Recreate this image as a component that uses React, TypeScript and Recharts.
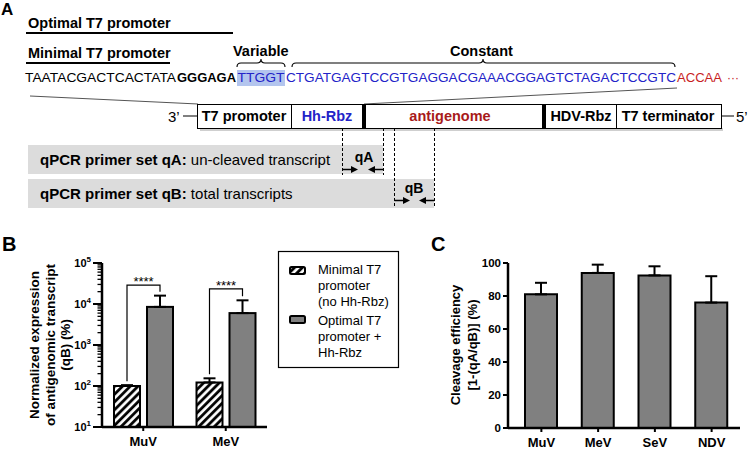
import React from "react";
import { BarChart, Bar, XAxis, YAxis, ErrorBar } from "recharts";

const FONT = '"Liberation Sans", Arial, sans-serif';

// panel B: antigenomic transcript (qB), log scale
const virusesB = ["MuV", "MeV"];
const minimalMean = [100, 122];
const minimalErr = [5, 32];
const optimalMean = [8500, 6000];
const optimalErr = [7500, 6300];
const sigTop = [29000, 23500];
const sigLabel = ["****", "****"];

// panel C: cleavage efficiency
const virusesC = ["MuV", "MeV", "SeV", "NDV"];
const cleavageMean = [81, 94, 92.5, 76];
const cleavageErr = [7, 5, 5.5, 16];

const logMajorTicks = [10, 100, 1000, 10000, 100000];
const logMinorSteps = [2, 3, 4, 5, 6, 7, 8, 9];
const linearTicks = [0, 20, 40, 60, 80, 100];

const BAR_GAP = 7;
const GRAY = "#808080";

const dataB = virusesB.map((name, i) => ({
  name,
  minimal: minimalMean[i],
  minimalErr: [0, minimalErr[i]],
  optimal: optimalMean[i],
  optimalErr: [0, optimalErr[i]],
  sigTop: sigTop[i],
  sig: sigLabel[i],
}));

const dataC = virusesC.map((name, i) => ({
  name,
  value: cleavageMean[i],
  err: [0, cleavageErr[i]],
}));

const logTicks = [
  ...logMajorTicks.slice(0, -1).flatMap((m) => [m, ...logMinorSteps.map((k) => m * k)]),
  logMajorTicks[logMajorTicks.length - 1],
];

function LogTick(props: any) {
  const { x, y, payload } = props;
  const v = payload.value;
  const major = logMajorTicks.includes(v);
  const exp = Math.round(Math.log10(v));
  return (
    <g>
      <line x1={x - (major ? 9 : 4.5)} x2={x} y1={y} y2={y} stroke="#000" strokeWidth={major ? 2 : 1.3} />
      {major && (
        <text x={x - 11} y={y + 4} textAnchor="end" fontFamily={FONT} fontSize={11} fontWeight="bold" fill="#000">
          10
          <tspan dy={-5} fontSize={8}>
            {exp}
          </tspan>
        </text>
      )}
    </g>
  );
}

// optimal bar + significance bracket back to its minimal neighbour
function OptimalShape(props: any) {
  const { x, y, width, height, payload } = props;
  const base = y + height;
  const perDecade = height / Math.log10(payload.optimal / 10);
  const py = (v: number) => base - Math.log10(v / 10) * perDecade;
  const rightX = x + width / 2;
  const leftX = x - BAR_GAP - width / 2;
  const topY = py(payload.sigTop);
  const leftEnd = py(payload.minimal + payload.minimalErr[1]) - 4;
  const rightEnd = py(payload.optimal + payload.optimalErr[1]) - 4;
  return (
    <g>
      <rect x={x} y={y} width={width} height={height} fill={GRAY} stroke="#000" strokeWidth={2} />
      <path d={`M${leftX},${leftEnd}V${topY}H${rightX}V${rightEnd}`} fill="none" stroke="#000" strokeWidth={1.2} />
      <text x={(leftX + rightX) / 2} y={topY + 1} textAnchor="middle" fontFamily={FONT} fontSize={13} fill="#000">
        {payload.sig}
      </text>
    </g>
  );
}

function Arrow({ from, to, y }: { from: number; to: number; y: number }) {
  const d = to > from ? 1 : -1;
  return (
    <g>
      <line x1={from} x2={to - d * 6} y1={y} y2={y} stroke="#000" strokeWidth={1.5} />
      <path d={`M${to},${y}L${to - d * 7},${y - 3.5}L${to - d * 7},${y + 3.5}Z`} fill="#000" />
    </g>
  );
}

function brace(x1: number, x2: number, mid: number) {
  const y = 63;
  return `M${x1},67Q${x1},${y} ${x1 + 4},${y}L${mid - 4},${y}Q${mid},${y} ${mid},${y - 4}Q${mid},${y} ${mid + 4},${y}L${x2 - 4},${y}Q${x2},${y} ${x2},67`;
}

const BLUE = "#2323c8";
const RED = "#c81e1e";

// sequence pieces: text, start, length, colour, bold
const seqParts: [string, number, number, string, boolean][] = [
  ["TAATACGACTCACTATA", 25, 151, "#000", false],
  ["GGGAGA", 177, 59, "#000", true],
  ["TTGGT", 237.5, 47, BLUE, false],
  ["CTGATGAGTCCGTGAGGACGAAACGGAGTCTAGACTCCGTC", 286, 390, BLUE, false],
  ["ACCAA", 677, 45, RED, false],
  ["···", 727, 12, RED, false],
];

function Overlay() {
  return (
    <svg width={750} height={450} style={{ position: "absolute", left: 0, top: 0 }} fontFamily={FONT}>
      <defs>
        <pattern id="hatch" patternUnits="userSpaceOnUse" width={5.5} height={5.5} patternTransform="rotate(45)">
          <rect width={5.5} height={5.5} fill="#fff" />
          <line x1={1.5} y1={0} x2={1.5} y2={5.5} stroke="#000" strokeWidth={2.8} />
        </pattern>
      </defs>

      {/* panel A */}
      <text x={1} y={15} fontSize={17} fontWeight="bold">A</text>
      <text x={28} y={28} fontSize={14.5} fontWeight="bold">Optimal T7 promoter</text>
      <line x1={26} x2={233} y1={33} y2={33} stroke="#000" strokeWidth={2} />
      <text x={28} y={58} fontSize={14.5} fontWeight="bold">Minimal T7 promoter</text>
      <line x1={26} x2={170} y1={63} y2={63} stroke="#000" strokeWidth={2} />
      <text x={233} y={56} fontSize={14.5} fontWeight="bold">Variable</text>
      <text x={450} y={56} fontSize={14.5} fontWeight="bold">Constant</text>
      <path d={brace(237, 285, 261)} fill="none" stroke="#000" strokeWidth={1.1} />
      <path d={brace(292, 675, 483)} fill="none" stroke="#000" strokeWidth={1.1} />
      <rect x={237} y={70} width={48} height={16} fill="#b3c5ee" />
      {seqParts.map(([s, x, len, color, bold]) => (
        <text
          key={s}
          x={x}
          y={82}
          fontSize={13.5}
          fill={color}
          fontWeight={bold ? "bold" : "normal"}
          textLength={len}
          lengthAdjust="spacingAndGlyphs"
        >
          {s}
        </text>
      ))}
      <line x1={30} y1={96} x2={198} y2={104} stroke="#555" strokeWidth={1} />
      <line x1={677} y1={88} x2={364} y2={104} stroke="#555" strokeWidth={1} />

      {/* construct */}
      <rect x={200} y={128} width={523} height={3} fill="#cfcfcf" />
      <rect x={197.5} y={104.5} width={524} height={24} fill="#fff" stroke="#000" strokeWidth={1} />
      <line x1={291.5} x2={291.5} y1={104} y2={128} stroke="#000" />
      <rect x={362} y={104} width={4} height={24} fill="#000" />
      <rect x={542} y={104} width={4} height={24} fill="#000" />
      <line x1={616.5} x2={616.5} y1={104} y2={128} stroke="#000" />
      <text x={244} y={121} fontSize={14.5} fontWeight="bold" textAnchor="middle">T7 promoter</text>
      <text x={327} y={121} fontSize={14.5} fontWeight="bold" textAnchor="middle" fill={BLUE}>Hh-Rbz</text>
      <text x={450} y={121} fontSize={14.5} fontWeight="bold" textAnchor="middle" fill="#a81a1a">antigenome</text>
      <text x={581} y={121} fontSize={14.5} fontWeight="bold" textAnchor="middle">HDV-Rbz</text>
      <text x={668} y={121} fontSize={14.5} fontWeight="bold" textAnchor="middle">T7 terminator</text>
      <text x={168} y={122} fontSize={15}>3’</text>
      <line x1={183} x2={197} y1={116} y2={116} stroke="#000" />
      <line x1={722} x2={734} y1={116} y2={116} stroke="#000" />
      <text x={736} y={122} fontSize={15}>5’</text>

      {/* qPCR primer sets */}
      <rect x={28} y={145} width={355} height={29} fill="#dcdcdc" />
      <rect x={28} y={179} width={406} height={29} fill="#dcdcdc" />
      <g stroke="#000" strokeWidth={1} strokeDasharray="3 2">
        <line x1={342.5} x2={342.5} y1={128} y2={175} />
        <line x1={383.5} x2={383.5} y1={128} y2={175} />
        <line x1={394.5} x2={394.5} y1={128} y2={208} />
        <line x1={434.5} x2={434.5} y1={128} y2={208} />
      </g>
      <text x={40} y={165} fontSize={15}>
        <tspan fontWeight="bold">qPCR primer set qA:</tspan>
        <tspan> un-cleaved transcript</tspan>
      </text>
      <text x={40} y={199} fontSize={15}>
        <tspan fontWeight="bold">qPCR primer set qB:</tspan>
        <tspan> total transcripts</tspan>
      </text>
      <text x={364} y={162} fontSize={14} fontWeight="bold" textAnchor="middle">qA</text>
      <Arrow from={342.5} to={358} y={169.5} />
      <Arrow from={383.5} to={368} y={169.5} />
      <text x={414} y={193} fontSize={14} fontWeight="bold" textAnchor="middle">qB</text>
      <Arrow from={394.5} to={410} y={200.5} />
      <Arrow from={434.5} to={419} y={200.5} />

      {/* panel B extras */}
      <text x={2} y={251} fontSize={20} fontWeight="bold">B</text>
      <g fontSize={13.5} fontWeight="bold" textAnchor="middle">
        <text transform="translate(39,345) rotate(-90)">Normalized expression</text>
        <text transform="translate(54.5,345) rotate(-90)">of antigenomic transcript</text>
        <text transform="translate(70,345) rotate(-90)">(qB) (%)</text>
      </g>
      <rect x={278.5} y={251.5} width={120} height={116} fill="none" stroke="#000" strokeWidth={1.2} />
      <rect x={290} y={267} width={15} height={7} rx={1.5} fill="url(#hatch)" stroke="#000" strokeWidth={2} />
      <rect x={290} y={316} width={15} height={7} rx={1.5} fill={GRAY} stroke="#000" strokeWidth={2} />
      <g fontSize={13}>
        <text x={318} y={274}>Minimal T7</text>
        <text x={318} y={290}>promoter</text>
        <text x={318} y={306}>(no Hh-Rbz)</text>
        <text x={318} y={325}>Optimal T7</text>
        <text x={318} y={341}>promoter +</text>
        <text x={318} y={357}>Hh-Rbz</text>
      </g>

      {/* panel C extras */}
      <text x={431} y={251} fontSize={20} fontWeight="bold">C</text>
      <g fontSize={13} fontWeight="bold" textAnchor="middle">
        <text transform="translate(460,345) rotate(-90)">Cleavage efficiency</text>
        <text transform="translate(476.5,345) rotate(-90)">[1-(qA/qB)] (%)</text>
      </g>
    </svg>
  );
}

const axisLine = { stroke: "#000", strokeWidth: 2.5 };
const tickLine = { stroke: "#000", strokeWidth: 2 };
const xTick = { fill: "#000", fontSize: 13, fontWeight: "bold", fontFamily: FONT };

export default function App() {
  return (
    <div style={{ position: "relative", width: 750, height: 450, background: "#fff", overflow: "hidden" }}>
      <style>{"body{margin:0}"}</style>
      <Overlay />
      <div style={{ position: "absolute", left: 0, top: 250 }}>
        <BarChart
          width={280}
          height={200}
          data={dataB}
          margin={{ top: 13, right: 13, bottom: 0, left: 0 }}
          barGap={BAR_GAP}
          barSize={26}
        >
          <XAxis
            dataKey="name"
            height={23}
            axisLine={axisLine}
            tickLine={tickLine}
            tickSize={4}
            tickMargin={6}
            tick={xTick}
          />
          <YAxis
            type="number"
            scale="log"
            domain={[10, 100000]}
            allowDataOverflow
            ticks={logTicks}
            interval={0}
            width={102}
            axisLine={axisLine}
            tickLine={false}
            tickSize={0}
            tickMargin={0}
            tick={(p: any) => <LogTick {...p} />}
          />
          <Bar dataKey="minimal" fill="url(#hatch)" stroke="#000" strokeWidth={2} isAnimationActive={false}>
            <ErrorBar dataKey="minimalErr" width={6} stroke="#000" strokeWidth={2} />
          </Bar>
          <Bar dataKey="optimal" fill={GRAY} shape={(p: any) => <OptimalShape {...p} />} isAnimationActive={false}>
            <ErrorBar dataKey="optimalErr" width={6} stroke="#000" strokeWidth={2} />
          </Bar>
        </BarChart>
      </div>
      <div style={{ position: "absolute", left: 400, top: 250 }}>
        <BarChart
          width={350}
          height={200}
          data={dataC}
          margin={{ top: 13, right: 10, bottom: 0, left: 0 }}
          barSize={32}
        >
          <XAxis
            dataKey="name"
            height={22}
            padding={{ left: 5, right: 0 }}
            axisLine={axisLine}
            tickLine={tickLine}
            tickSize={4}
            tickMargin={6}
            tick={xTick}
          />
          <YAxis
            type="number"
            domain={[0, 100]}
            ticks={linearTicks}
            interval={0}
            width={108}
            axisLine={axisLine}
            tickLine={tickLine}
            tickSize={5}
            tickMargin={2}
            tick={{ fill: "#000", fontSize: 11.5, fontWeight: "bold", fontFamily: FONT }}
          />
          <Bar dataKey="value" fill={GRAY} stroke="#000" strokeWidth={2} isAnimationActive={false}>
            <ErrorBar dataKey="err" width={6} stroke="#000" strokeWidth={2} />
          </Bar>
        </BarChart>
      </div>
    </div>
  );
}
